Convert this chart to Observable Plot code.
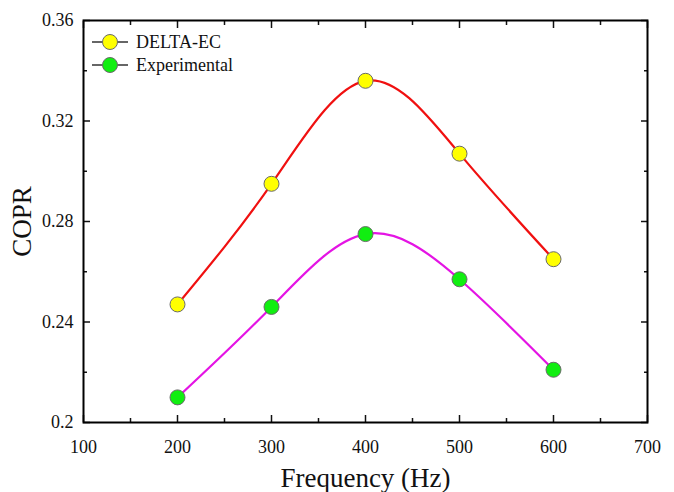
<!DOCTYPE html>
<html><head><meta charset="utf-8">
<script src="https://cdn.jsdelivr.net/npm/d3@7"></script>
<script src="https://cdn.jsdelivr.net/npm/@observablehq/plot@0.6"></script>
<style>
body{margin:0;background:#fff;}
#wrap{position:relative;width:674px;height:492px;}
#legend{position:absolute;left:0;top:0;}
svg text{font-family:"Liberation Serif","Times New Roman",serif;}
</style></head><body><div id="wrap"></div>
<script>
const freq = [200, 300, 400, 500, 600];
const deltaEC = [0.247, 0.295, 0.336, 0.307, 0.265];
const experimental = [0.210, 0.246, 0.275, 0.257, 0.221];
const seriesNames = ["DELTA-EC", "Experimental"];
const xMajor = [100, 200, 300, 400, 500, 600, 700];
const xMinor = [150, 250, 350, 450, 550, 650];
const yMajor = [0.2, 0.24, 0.28, 0.32, 0.36];
const yMinor = [0.22, 0.26, 0.30, 0.34];

const lineColors = ["#f01010", "#e414e4"];
const fillColors = ["#ffff00", "#11ee11"];
const font = "Liberation Serif, Times New Roman, serif";

const data = [];
freq.forEach((f, i) => {
  data.push({f, v: deltaEC[i], s: seriesNames[0]});
  data.push({f, v: experimental[i], s: seriesNames[1]});
});
const fmt = d3.format("~g");
const blank = () => "";
const MJ = 7, MN = 4;
const common = {strokeWidth: 1.5, fontFamily: font};

const chart = Plot.plot({
  width: 674, height: 492,
  marginLeft: 83, marginRight: 27, marginTop: 20, marginBottom: 70,
  style: {fontFamily: font, fontSize: "18px", color: "#111", background: "#fff"},
  x: {domain: [100, 700]},
  y: {domain: [0.2, 0.36]},
  marks: [
    Plot.axisX(xMajor, {...common, anchor: "bottom", tickSize: MJ, dy: -MJ, tickPadding: 18, tickFormat: d => d,
      fontSize: 18, label: "Frequency (Hz)", labelAnchor: "center", labelOffset: 64, labelArrow: false}),
    Plot.axisX(xMinor, {...common, anchor: "bottom", tickSize: MN, dy: -MN, tickFormat: blank, label: null}),
    Plot.axisX(xMajor, {...common, anchor: "top", tickSize: MJ, dy: MJ, tickFormat: blank, label: null}),
    Plot.axisX(xMinor, {...common, anchor: "top", tickSize: MN, dy: MN, tickFormat: blank, label: null}),
    Plot.axisY(yMajor, {...common, anchor: "left", tickSize: MJ, dx: MJ, tickPadding: 10, tickFormat: fmt,
      fontSize: 18, label: "COPR", labelAnchor: "center", labelOffset: 72, labelArrow: false}),
    Plot.axisY(yMinor, {...common, anchor: "left", tickSize: MN, dx: MN, tickFormat: blank, label: null}),
    Plot.axisY(yMajor, {...common, anchor: "right", tickSize: MJ, dx: -MJ, tickFormat: blank, label: null}),
    Plot.axisY(yMinor, {...common, anchor: "right", tickSize: MN, dx: -MN, tickFormat: blank, label: null}),
    Plot.frame({stroke: "#000", strokeWidth: 2}),
    Plot.line(data, {x: "f", y: "v", z: "s", curve: "natural", strokeWidth: 2.2,
      stroke: d => d.s === seriesNames[0] ? lineColors[0] : lineColors[1]}),
    Plot.dot(data, {x: "f", y: "v", r: 7.5, stroke: "#6a6a6a", strokeWidth: 1,
      fill: d => d.s === seriesNames[0] ? fillColors[0] : fillColors[1]})
  ]
});
d3.select(chart).selectAll("[aria-label='x-axis label'] text, [aria-label='y-axis label'] text")
  .style("font-size", "27px");
const wrap = document.getElementById("wrap");
wrap.appendChild(chart);

const leg = d3.select(wrap).append("svg").attr("id", "legend").attr("width", 260).attr("height", 90)
  .attr("font-family", font);
seriesNames.forEach((name, i) => {
  const y = 42 + i * 23;
  const g = leg.append("g").attr("transform", `translate(0,${y})`);
  g.append("line").attr("x1", 92).attr("x2", 128).attr("stroke", "#333").attr("stroke-width", 1.6);
  g.append("circle").attr("cx", 110).attr("r", 7.5).attr("fill", fillColors[i]).attr("stroke", "#6a6a6a");
  g.append("text").attr("x", 136).attr("dy", "0.35em").attr("font-size", 18).attr("fill", "#111").text(name);
});
</script></body></html>
